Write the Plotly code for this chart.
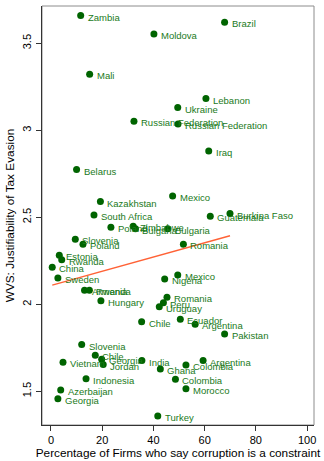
import numpy as np
import plotly.graph_objects as go

# Country-level observations: share of firms citing corruption as a constraint
# versus the WVS justifiability-of-tax-evasion score.
countries = [
    "Zambia", "Brazil", "Moldova", "Mali", "Lebanon", "Ukraine",
    "Russian Federation", "Russian Federation", "Iraq", "Belarus", "Mexico",
    "Kazakhstan", "Burkina Faso", "South Africa", "Guatemala", "Poland",
    "Zimbabwe", "Bulgaria", "Bulgaria", "Slovenia", "Poland", "Romania",
    "Estonia", "Rwanda", "China", "Mexico", "Sweden", "Nigeria", "Armenia",
    "Rwanda", "Romania", "Hungary", "Peru", "Uruguay", "Ecuador", "Chile",
    "Argentina", "Pakistan", "Slovenia", "Chile", "Georgia", "India",
    "Argentina", "Vietnam", "Jordan", "Colombia", "Ghana", "Indonesia",
    "Colombia", "Morocco", "Azerbaijan", "Georgia", "Turkey",
]
firms_pct = [
    11.6, 67.8, 40.2, 15.1, 60.5, 49.5,
    32.4, 49.6, 61.6, 10.0, 47.5,
    19.3, 69.9, 16.8, 62.2, 23.4,
    32.1, 33.0, 45.6, 9.5, 12.5, 51.7,
    3.25, 4.2, 0.5, 49.5, 2.7, 44.4, 13.1,
    15.0, 45.3, 19.5, 43.9, 42.3, 50.5, 35.4,
    56.3, 67.8, 12.0, 17.3, 19.8, 35.5,
    59.4, 4.7, 20.4, 52.7, 42.7, 13.7,
    48.6, 52.7, 3.8, 2.7, 41.7,
]
wvs_tax = [
    3.659, 3.621, 3.553, 3.322, 3.182, 3.130,
    3.052, 3.036, 2.881, 2.774, 2.622,
    2.590, 2.521, 2.513, 2.506, 2.443,
    2.448, 2.434, 2.434, 2.374, 2.345, 2.345,
    2.282, 2.255, 2.213, 2.168, 2.151, 2.145, 2.080,
    2.080, 2.040, 2.020, 2.009, 1.986, 1.914, 1.900,
    1.885, 1.829, 1.768, 1.707, 1.684, 1.676,
    1.676, 1.667, 1.653, 1.651, 1.628, 1.572,
    1.569, 1.515, 1.507, 1.457, 1.358,
]

x_ticks = [0, 20, 40, 60, 80, 100]
y_ticks = [1.5, 2, 2.5, 3, 3.5]
y_tick_labels = ["1.5", "2", "2.5", "3", "3.5"]

x_title = "Percentage of Firms who say corruption is a constraint"
y_title = "WVS: Justifiability of Tax Evasion"

FONT = "Liberation Sans, Arial, Helvetica, sans-serif"
GREEN = "#006400"
LABEL_GREEN = "#1a7a1a"
FIT = "#ff6236"

# Linear fit across the observed range of x
xa = np.array(firms_pct)
ya = np.array(wvs_tax)
slope, intercept = np.polyfit(xa, ya, 1)
fit_x = np.array([xa.min(), xa.max()])
fit_y = intercept + slope * fit_x

fig = go.Figure()

fig.add_trace(go.Scatter(
    x=firms_pct, y=wvs_tax, text=countries,
    mode="markers",
    marker=dict(color=GREEN, size=7, line=dict(width=0)),
    hoverinfo="text", showlegend=False,
))

fig.add_trace(go.Scatter(
    x=fit_x, y=fit_y, mode="lines",
    line=dict(color=FIT, width=1.4),
    hoverinfo="skip", showlegend=False,
))

# Marker labels to the right of each point, sitting slightly low
label_annotations = [
    dict(x=xv, y=yv, text=name, xref="x", yref="y",
         xanchor="left", yanchor="middle", xshift=5, yshift=-1.5,
         showarrow=False,
         font=dict(family=FONT, size=9.5, color=LABEL_GREEN))
    for name, xv, yv in zip(countries, firms_pct, wvs_tax)
]

# Light frame around the plot region
fig.add_shape(type="rect", xref="paper", yref="paper", x0=0, y0=0, x1=1, y1=1,
              line=dict(color="#8c8c8c", width=1), layer="below")

fig.update_layout(
    width=324, height=461,
    margin=dict(l=42, r=10, t=6, b=36),
    paper_bgcolor="white", plot_bgcolor="white",
    font=dict(family=FONT, color="black"),
    annotations=label_annotations,
    xaxis=dict(
        range=[-3.5, 102.7], tickvals=x_ticks,
        showgrid=False, zeroline=False,
        showline=True, linecolor="#333333", linewidth=1.3,
        ticks="outside", ticklen=5, tickcolor="#333333", tickwidth=1,
        tickfont=dict(family=FONT, size=11, color="black"),
        title=dict(text=x_title, font=dict(family=FONT, size=11.8, color="black"),
                   standoff=2),
        automargin=False,
    ),
    yaxis=dict(
        range=[1.306, 3.714], tickvals=y_ticks, ticktext=y_tick_labels,
        tickangle=-90,
        showgrid=False, zeroline=False,
        showline=True, linecolor="#333333", linewidth=1.3,
        ticks="outside", ticklen=5, tickcolor="#333333", tickwidth=1,
        tickfont=dict(family=FONT, size=11, color="black"),
        title=dict(text=y_title, font=dict(family=FONT, size=11.8, color="black"),
                   standoff=4),
        automargin=False,
    ),
)

fig.write_html("out.html")
